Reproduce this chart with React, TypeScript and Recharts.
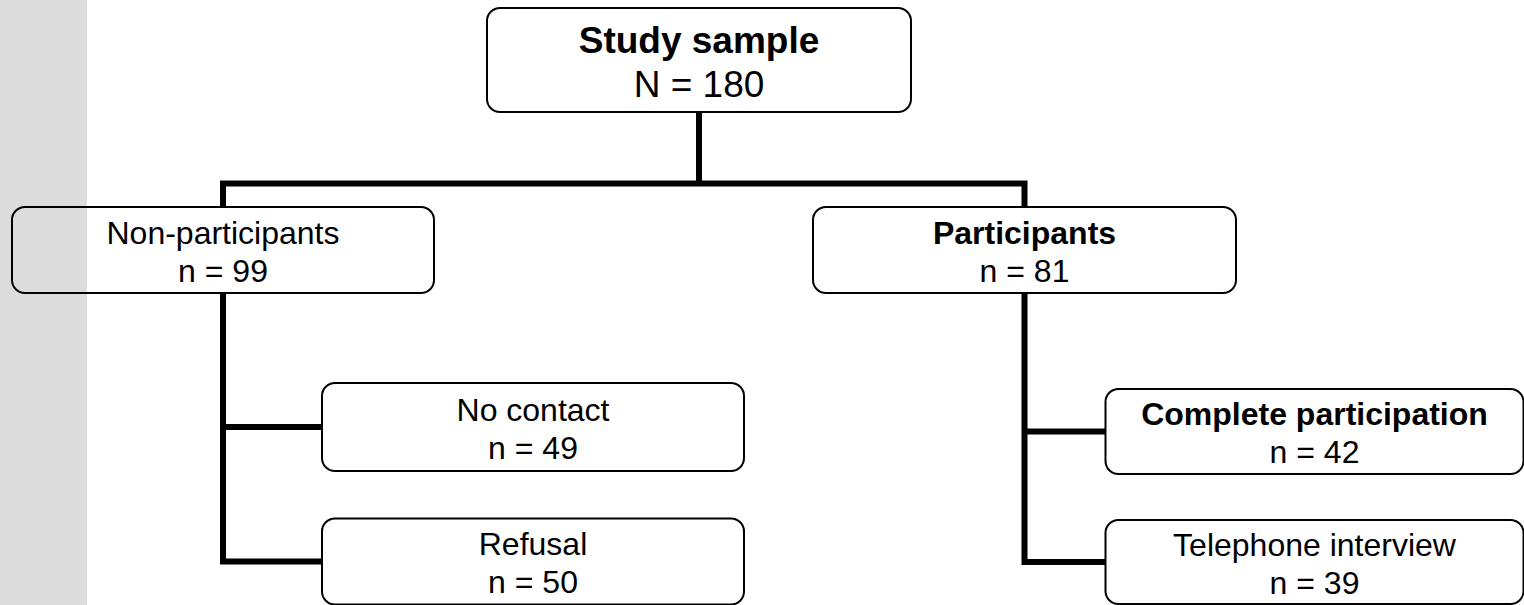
import React from 'react';
import { ScatterChart, Scatter, XAxis, YAxis, ReferenceArea } from 'recharts';

// flowchart content
const nodeTitles = ['Study sample', 'Non-participants', 'Participants', 'No contact', 'Refusal', 'Complete participation', 'Telephone interview'];
const nodeCountSymbols = ['N', 'n', 'n', 'n', 'n', 'n', 'n'];
const nodeCounts = [180, 99, 81, 49, 50, 42, 39];
const nodeBold = [true, false, true, false, false, true, false];
const nodeParent = [-1, 0, 0, 1, 1, 2, 2];

// layout (page units, 1 unit = 1px)
const nodeX = [699, 223, 1024.5, 533, 533, 1314.5, 1314.5];
const nodeY = [60, 250, 250, 427, 561.5, 431.5, 562];
const nodeW = [424, 422, 423, 422, 422, 418, 418];
const nodeH = [104, 86, 86, 88, 86, 85, 84];
const junctionY = 183.5;

const W = 1524;
const H = 605;
const FONT = '"Liberation Sans", Arial, sans-serif';

const nodes = nodeTitles.map((title, i) => ({
    x: nodeX[i],
    y: nodeY[i],
    w: nodeW[i],
    h: nodeH[i],
    title,
    count: `${nodeCountSymbols[i]} = ${nodeCounts[i]}`,
    bold: nodeBold[i],
    fs: i === 0 ? 37 : 32,
}));

// connector polylines built from the tree
const connectors: { x: number; y: number }[][] = [];
const root = nodes[0];
connectors.push([{ x: root.x, y: root.y + root.h / 2 }, { x: root.x, y: junctionY }]);
const tier1 = nodes.filter((_, i) => nodeParent[i] === 0);
const t0 = tier1[0];
const tN = tier1[tier1.length - 1];
connectors.push([
    { x: t0.x, y: t0.y - t0.h / 2 },
    { x: t0.x, y: junctionY },
    { x: tN.x, y: junctionY },
    { x: tN.x, y: tN.y - tN.h / 2 },
]);
nodes.forEach((p, pi) => {
    if (pi === 0) return;
    const kids = nodes.filter((_, i) => nodeParent[i] === pi);
    if (!kids.length) return;
    const last = kids[kids.length - 1];
    connectors.push([
        { x: p.x, y: p.y + p.h / 2 },
        { x: p.x, y: last.y },
        { x: last.x - last.w / 2, y: last.y },
    ]);
    kids.slice(0, -1).forEach(k => {
        connectors.push([{ x: p.x, y: k.y }, { x: k.x - k.w / 2, y: k.y }]);
    });
});

const NodeBox = (props: any) => {
    const { cx, cy, payload } = props;
    if (cx == null || cy == null) return <g />;
    const { w, h, fs } = payload;
    return (
        <g>
            <rect x={cx - w / 2} y={cy - h / 2} width={w} height={h} rx={13} ry={13}
                fill="none" stroke="#000" strokeWidth={2} />
            <text x={cx} y={cy - fs * 0.2} textAnchor="middle" fontFamily={FONT} fontSize={fs}
                fontWeight={payload.bold ? 'bold' : 'normal'} fill="#000">{payload.title}</text>
            <text x={cx} y={cy + fs * 0.99} textAnchor="middle" fontFamily={FONT} fontSize={fs}
                fill="#000">{payload.count}</text>
        </g>
    );
};

const NoDot = () => <g />;

export default function App() {
    return (
        <div style={{ position: 'absolute', left: 0, top: 0, width: W, height: H, background: '#fff' }}>
            <ScatterChart width={W} height={H} margin={{ top: 0, right: 0, bottom: 0, left: 0 }}>
                <XAxis type="number" dataKey="x" domain={[0, W]} allowDataOverflow hide />
                <YAxis type="number" dataKey="y" domain={[0, H]} allowDataOverflow reversed hide />
                <ReferenceArea x1={0} x2={87} y1={0} y2={H} fill="#dcdcdc" fillOpacity={1} stroke="none" />
                {connectors.map((pts, i) => (
                    <Scatter key={`c-${i}`} data={pts} fill="#000" shape={NoDot}
                        line={{ stroke: '#000', strokeWidth: 6, strokeLinejoin: 'miter' }}
                        isAnimationActive={false} />
                ))}
                <Scatter data={nodes} shape={NodeBox} isAnimationActive={false} />
            </ScatterChart>
        </div>
    );
}
